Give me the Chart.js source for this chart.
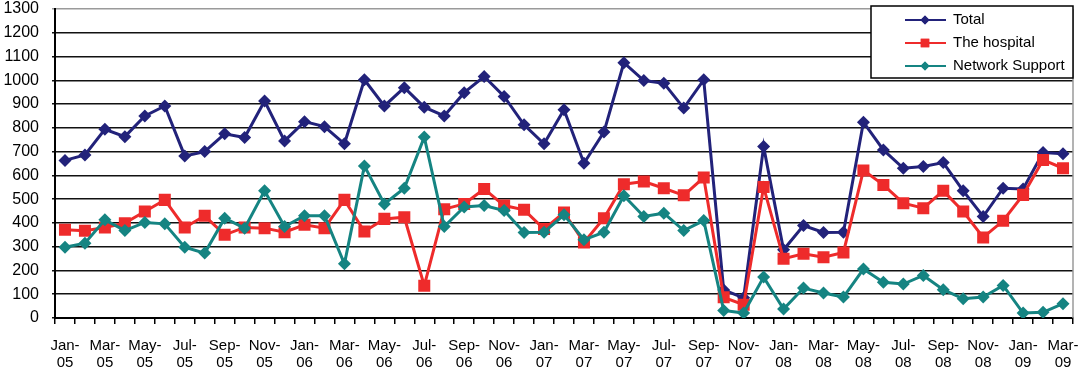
<!DOCTYPE html>
<html lang="en">
<head>
    <meta charset="UTF-8">
    <title>Monthly totals</title>
    <script src="https://cdn.jsdelivr.net/npm/chart.js"></script>
    <style>
        html, body { margin: 0; padding: 0; background: #fff; }
        #wrap { width: 1084px; height: 373px; }
    </style>
</head>
<body>
    <div id="wrap"><canvas id="chart" width="1084" height="373"></canvas></div>

    <script>
    // Chart data
    const months = [
        'Jan-05', 'Feb-05', 'Mar-05', 'Apr-05', 'May-05', 'Jun-05', 'Jul-05', 'Aug-05', 'Sep-05', 'Oct-05', 'Nov-05', 'Dec-05',
        'Jan-06', 'Feb-06', 'Mar-06', 'Apr-06', 'May-06', 'Jun-06', 'Jul-06', 'Aug-06', 'Sep-06', 'Oct-06', 'Nov-06', 'Dec-06',
        'Jan-07', 'Feb-07', 'Mar-07', 'Apr-07', 'May-07', 'Jun-07', 'Jul-07', 'Aug-07', 'Sep-07', 'Oct-07', 'Nov-07', 'Dec-07',
        'Jan-08', 'Feb-08', 'Mar-08', 'Apr-08', 'May-08', 'Jun-08', 'Jul-08', 'Aug-08', 'Sep-08', 'Oct-08', 'Nov-08', 'Dec-08',
        'Jan-09', 'Feb-09', 'Mar-09'
    ];

    const total = [
        663, 686, 794, 763, 850, 892, 682, 700, 775, 759, 913,
        745, 826, 805, 733, 1002, 892, 969, 887, 850, 948, 1016, 932, 813,
        733, 876, 651, 782, 1074, 999, 988, 883, 1002, 118, 85, 721, 287,
        389, 360, 361, 824, 707, 630, 637, 654, 535, 427, 546, 543, 696, 691
    ];

    const hospital = [
        371, 367, 381, 399, 448, 497, 381, 430, 350, 381, 378,
        361, 392, 378, 497, 364, 417, 424, 136, 458, 480, 543, 473, 455,
        374, 444, 318, 420, 563, 574, 546, 516, 591, 87, 56, 551, 249,
        270, 256, 276, 621, 560, 483, 462, 535, 448, 339, 409, 518, 665, 630
    ];

    const networkSupport = [
        298, 315, 413, 368, 402, 396, 298, 273, 420, 378, 535,
        385, 430, 430, 228, 640, 480, 546, 761, 385, 467, 473, 452, 360,
        361, 434, 329, 361, 514, 427, 441, 368, 410, 32, 21, 172, 38,
        126, 105, 88, 206, 150, 143, 179, 119, 81, 88, 137, 21, 24, 60
    ];

    const seriesNames = ['Total', 'The hospital', 'Network Support'];

    const NAVY = '#22227a';
    const RED = '#ee2b2b';
    const TEAL = '#158482';
    const FONT = "'Liberation Sans', Arial, sans-serif";

    // legend box drawn in the top right corner, line + marker like the original
    const boxLegend = {
        id: 'boxLegend',
        afterDraw(chart) {
            const ctx = chart.ctx;
            const area = chart.chartArea;
            const x0 = 871, y0 = 6, x1 = area.right, y1 = 78;
            ctx.save();
            ctx.fillStyle = '#fff';
            ctx.fillRect(x0, y0, x1 - x0, y1 - y0);
            ctx.strokeStyle = '#000';
            ctx.lineWidth = 1.5;
            ctx.strokeRect(x0, y0, x1 - x0, y1 - y0);

            const rows = [20, 43, 66];
            chart.data.datasets.forEach((ds, i) => {
                const y = rows[i];
                ctx.strokeStyle = ds.borderColor;
                ctx.lineWidth = 2;
                ctx.beginPath();
                ctx.moveTo(905, y);
                ctx.lineTo(946, y);
                ctx.stroke();
                ctx.fillStyle = ds.borderColor;
                Chart.helpers.drawPoint(ctx, {
                    pointStyle: ds.pointStyle,
                    radius: ds.pointStyle === 'rect' ? 6 : 4.5,
                    borderWidth: 0
                }, 925, y);
                ctx.fill();
                ctx.fillStyle = '#000';
                ctx.font = '15px ' + FONT;
                ctx.textBaseline = 'middle';
                ctx.fillText(ds.label, 953, y);
            });
            ctx.restore();
        }
    };

    // grey frame on the right side of the plot
    const rightFrame = {
        id: 'rightFrame',
        beforeDatasetsDraw(chart) {
            const ctx = chart.ctx;
            const a = chart.chartArea;
            ctx.save();
            ctx.strokeStyle = '#9a9a9a';
            ctx.lineWidth = 1.5;
            ctx.beginPath();
            ctx.moveTo(a.right, a.top);
            ctx.lineTo(a.right, a.bottom);
            ctx.stroke();
            ctx.restore();
        }
    };

    function makeSeries(label, data, color, style, radius, order) {
        return {
            label: label,
            data: data,
            borderColor: color,
            backgroundColor: color,
            borderWidth: 3,
            pointStyle: style,
            pointRadius: radius,
            pointBorderWidth: 0,
            pointBackgroundColor: color,
            tension: 0,
            order: order
        };
    }

    new Chart(document.getElementById('chart'), {
        type: 'line',
        data: {
            labels: months,
            datasets: [
                makeSeries(seriesNames[0], total, NAVY, 'rectRot', 6.5, 3),
                makeSeries(seriesNames[1], hospital, RED, 'rect', 8.5, 2),
                makeSeries(seriesNames[2], networkSupport, TEAL, 'rectRot', 6.5, 1)
            ]
        },
        options: {
            responsive: false,
            animation: false,
            layout: { padding: { left: 0, right: 11, top: 9, bottom: 0 } },
            plugins: {
                legend: { display: false },
                tooltip: { enabled: false }
            },
            scales: {
                x: {
                    offset: true,
                    grid: {
                        offset: true,
                        drawOnChartArea: false,
                        drawTicks: true,
                        tickLength: 6,
                        color: '#000',
                        lineWidth: 1.5
                    },
                    border: { color: '#000', width: 2 },
                    ticks: {
                        autoSkip: false,
                        maxRotation: 0,
                        minRotation: 0,
                        padding: 13,
                        color: '#000',
                        font: { family: FONT, size: 15, lineHeight: 1.15 },
                        callback: function(value, index) {
                            if (index % 2 !== 0) return '';
                            const parts = months[index].split('-');
                            return [parts[0] + '-', parts[1]];
                        }
                    },
                    afterFit: function(scale) {
                        scale.height = 55;
                        scale.paddingLeft = 0;
                        scale.paddingRight = 0;
                    }
                },
                y: {
                    min: 0,
                    max: 1300,
                    grid: {
                        drawTicks: true,
                        tickLength: 3,
                        color: ctx => ctx.tick && ctx.tick.value === 1300 ? '#9a9a9a' : '#111',
                        lineWidth: 1.5
                    },
                    border: { color: '#000', width: 2 },
                    ticks: {
                        stepSize: 100,
                        padding: 13,
                        color: '#000',
                        font: { family: FONT, size: 16 },
                        callback: v => String(v)
                    },
                    afterFit: function(scale) {
                        scale.width = 55;
                        scale.paddingTop = 0;
                        scale.paddingBottom = 0;
                    }
                }
            }
        },
        plugins: [rightFrame, boxLegend]
    });
    </script>
</body>
</html>
